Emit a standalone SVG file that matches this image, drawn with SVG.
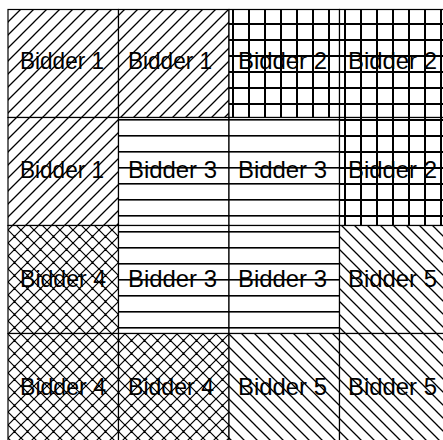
<svg xmlns="http://www.w3.org/2000/svg" width="443" height="440" viewBox="0 0 443 440">
<style>
.cell{stroke:#000;stroke-width:1.2}
.lbl{font-family:"Liberation Sans",Arial,sans-serif;font-size:24px;fill:#000}
</style>
<defs>
<pattern id="p1" patternUnits="userSpaceOnUse" x="8" y="9" width="13" height="13">
<rect width="13" height="13" fill="#fff"/>
<path d="M-2,2 L2,-2 M0,13 L13,0 M11,15 L15,11" stroke="#000" stroke-width="1.3"/>
</pattern>
<pattern id="p5" patternUnits="userSpaceOnUse" x="8" y="9" width="13" height="13">
<rect width="13" height="13" fill="#fff"/>
<path d="M-2,11 L2,15 M0,0 L13,13 M11,-2 L15,2" stroke="#000" stroke-width="1.3"/>
</pattern>
<pattern id="p4" patternUnits="userSpaceOnUse" x="8" y="9" width="13" height="13">
<rect width="13" height="13" fill="#fff"/>
<path d="M-2,2 L2,-2 M0,13 L13,0 M11,15 L15,11 M-2,11 L2,15 M0,0 L13,13 M11,-2 L15,2" stroke="#000" stroke-width="1.2"/>
<rect x="5.5" y="5.5" width="2" height="2" fill="#000"/>
<rect x="-1" y="-1" width="2" height="2" fill="#000"/>
<rect x="12" y="-1" width="2" height="2" fill="#000"/>
<rect x="-1" y="12" width="2" height="2" fill="#000"/>
<rect x="12" y="12" width="2" height="2" fill="#000"/>
</pattern>
<pattern id="p2" patternUnits="userSpaceOnUse" x="8" y="7" width="16" height="16">
<rect width="16" height="16" fill="#fff"/>
<rect x="0" y="0" width="16" height="2" fill="#000"/>
<rect x="0" y="0" width="2" height="16" fill="#000"/>
</pattern>
<pattern id="p3" patternUnits="userSpaceOnUse" x="8" y="7" width="16" height="16">
<rect width="16" height="16" fill="#fff"/>
<rect x="0" y="0" width="16" height="1.6" fill="#000"/>
</pattern>
</defs>
<rect width="443" height="440" fill="#fff"/>
<g id="r1c1"><rect class="cell" x="8" y="9.5" width="110.5" height="108" fill="url(#p1)"/><text class="lbl" x="20" y="68.5" textLength="84" lengthAdjust="spacingAndGlyphs">Bidder 1</text></g>
<g id="r1c2"><rect class="cell" x="118.5" y="9.5" width="110.5" height="108" fill="url(#p1)"/><text class="lbl" x="128" y="68.5" textLength="84" lengthAdjust="spacingAndGlyphs">Bidder 1</text></g>
<g id="r1c3"><rect class="cell" x="229" y="9.5" width="110.5" height="108" fill="url(#p2)"/><text class="lbl" x="238" y="68.5" textLength="89" lengthAdjust="spacingAndGlyphs">Bidder 2</text></g>
<g id="r1c4"><rect class="cell" x="339.5" y="9.5" width="110.5" height="108" fill="url(#p2)"/><text class="lbl" x="348" y="68.5" textLength="89" lengthAdjust="spacingAndGlyphs">Bidder 2</text></g>
<g id="r2c1"><rect class="cell" x="8" y="117.5" width="110.5" height="108" fill="url(#p1)"/><text class="lbl" x="20" y="178" textLength="84" lengthAdjust="spacingAndGlyphs">Bidder 1</text></g>
<g id="r2c2"><rect class="cell" x="118.5" y="117.5" width="110.5" height="108" fill="url(#p3)"/><text class="lbl" x="128" y="178" textLength="89" lengthAdjust="spacingAndGlyphs">Bidder 3</text></g>
<g id="r2c3"><rect class="cell" x="229" y="117.5" width="110.5" height="108" fill="url(#p3)"/><text class="lbl" x="238" y="178" textLength="89" lengthAdjust="spacingAndGlyphs">Bidder 3</text></g>
<g id="r2c4"><rect class="cell" x="339.5" y="117.5" width="110.5" height="108" fill="url(#p2)"/><text class="lbl" x="348" y="178" textLength="89" lengthAdjust="spacingAndGlyphs">Bidder 2</text></g>
<g id="r3c1"><rect class="cell" x="8" y="225.5" width="110.5" height="108" fill="url(#p4)"/><text class="lbl" x="20" y="287" textLength="86" lengthAdjust="spacingAndGlyphs">Bidder 4</text></g>
<g id="r3c2"><rect class="cell" x="118.5" y="225.5" width="110.5" height="108" fill="url(#p3)"/><text class="lbl" x="128" y="287" textLength="89" lengthAdjust="spacingAndGlyphs">Bidder 3</text></g>
<g id="r3c3"><rect class="cell" x="229" y="225.5" width="110.5" height="108" fill="url(#p3)"/><text class="lbl" x="238" y="287" textLength="89" lengthAdjust="spacingAndGlyphs">Bidder 3</text></g>
<g id="r3c4"><rect class="cell" x="339.5" y="225.5" width="110.5" height="108" fill="url(#p5)"/><text class="lbl" x="348" y="287" textLength="89" lengthAdjust="spacingAndGlyphs">Bidder 5</text></g>
<g id="r4c1"><rect class="cell" x="8" y="333.5" width="110.5" height="108" fill="url(#p4)"/><text class="lbl" x="20" y="395" textLength="86" lengthAdjust="spacingAndGlyphs">Bidder 4</text></g>
<g id="r4c2"><rect class="cell" x="118.5" y="333.5" width="110.5" height="108" fill="url(#p4)"/><text class="lbl" x="128" y="395" textLength="86" lengthAdjust="spacingAndGlyphs">Bidder 4</text></g>
<g id="r4c3"><rect class="cell" x="229" y="333.5" width="110.5" height="108" fill="url(#p5)"/><text class="lbl" x="238" y="395" textLength="89" lengthAdjust="spacingAndGlyphs">Bidder 5</text></g>
<g id="r4c4"><rect class="cell" x="339.5" y="333.5" width="110.5" height="108" fill="url(#p5)"/><text class="lbl" x="348" y="395" textLength="89" lengthAdjust="spacingAndGlyphs">Bidder 5</text></g>
</svg>
